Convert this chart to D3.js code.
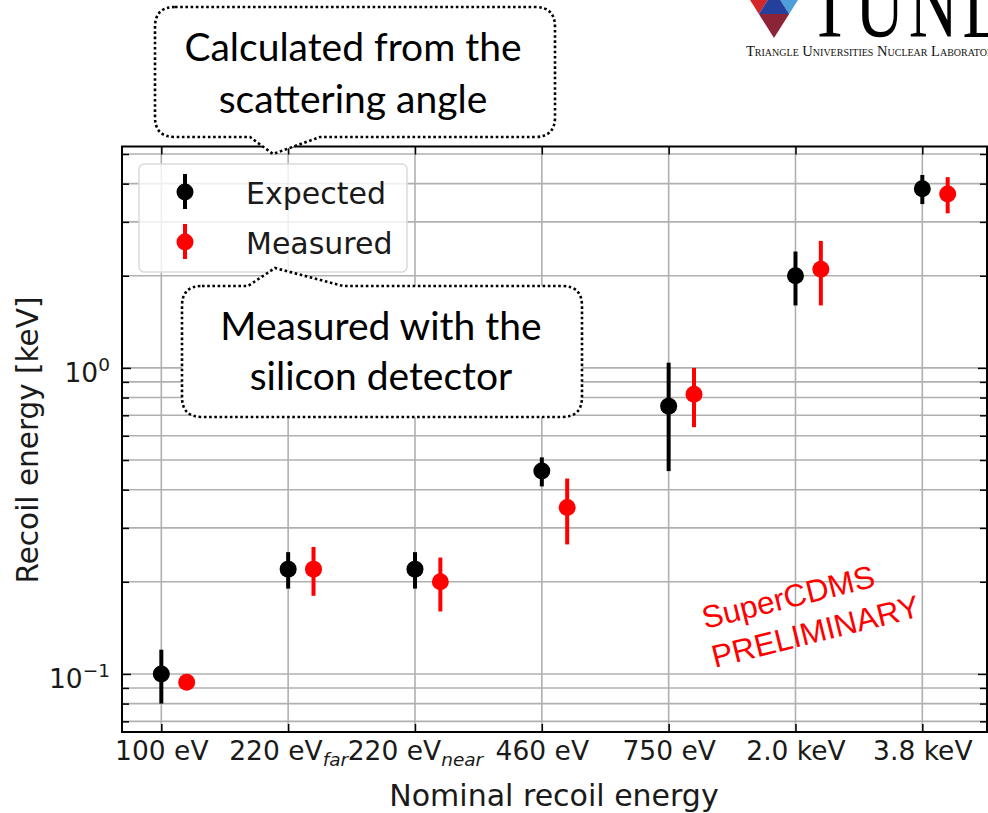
<!DOCTYPE html>
<html>
<head>
<meta charset="utf-8">
<script src="https://cdn.jsdelivr.net/npm/d3@7"></script>
<style>
  body { margin: 0; background: #fff; }
  svg { display: block; }
</style>
</head>
<body>
<svg></svg>
<script>
var W = 988, H = 813;
var margin = {top: 146.5, right: 1, bottom: 81, left: 122};
var width = W - margin.left - margin.right;
var height = H - margin.top - margin.bottom;

// data
var categories = ["100 eV", "220 eV", "220 eV", "460 eV", "750 eV", "2.0 keV", "3.8 keV"];
var subscripts = ["", "far", "near", "", "", "", ""];
var expected    = [0.100, 0.22, 0.22, 0.46, 0.75, 2.0, 3.85];
var expectedErr = [0.020, 0.03, 0.03, 0.05, 0.29, 0.4, 0.42];
var measured    = [0.094, 0.22, 0.20, 0.35, 0.82, 2.1, 3.70];
var measuredErr = [0.004, 0.04, 0.04, 0.085, 0.18, 0.5, 0.5];
var measuredOffset = 0.2;

var yMajor = [0.1, 1];
var yMinor = [0.07, 0.08, 0.09, 0.2, 0.3, 0.4, 0.5, 0.6, 0.7, 0.8, 0.9, 2, 3, 4, 5];

var series = [
  {name: "Expected", color: "#000", values: expected, errors: expectedErr, offset: 0},
  {name: "Measured", color: "#ff0000", values: measured, errors: measuredErr, offset: measuredOffset}
];

var svg = d3.select("svg")
    .attr("width", W)
    .attr("height", H);

svg.append("rect").attr("width", W).attr("height", H).attr("fill", "#fff");

var g = svg.append("g")
    .attr("transform", "translate(" + margin.left + "," + margin.top + ")");

var x = d3.scaleLinear().domain([-0.31, 6.51]).range([0, width]);
var y = d3.scaleLog().domain([0.0646, 5.29]).range([height, 0]);

// grid (major + minor on y, categories on x)
var grid = g.append("g").attr("stroke", "#b0b0b0").attr("stroke-width", 1.6);
grid.selectAll(".gy")
    .data(yMajor.concat(yMinor))
  .enter().append("line")
    .attr("x1", 0).attr("x2", width)
    .attr("y1", function(d) { return y(d); })
    .attr("y2", function(d) { return y(d); });
grid.selectAll(".gx")
    .data(d3.range(categories.length))
  .enter().append("line")
    .attr("y1", 0).attr("y2", height)
    .attr("x1", function(d) { return x(d); })
    .attr("x2", function(d) { return x(d); });

// axes, ticks pointing inward on all four sides
function styleAxis(sel) {
  sel.select(".domain").remove();
  sel.selectAll(".tick line").attr("stroke", "#000").attr("stroke-width", 1.5);
}

var xBottom = g.append("g")
    .attr("transform", "translate(0," + height + ")")
    .call(d3.axisBottom(x).tickValues(d3.range(categories.length)).tickSizeInner(-8).tickSizeOuter(0).tickPadding(9))
    .call(styleAxis);
xBottom.selectAll(".tick text")
    .attr("font-family", "DejaVu Sans")
    .attr("font-size", 26.5)
    .attr("fill", "#1a1a1a")
    .each(function(d) {
      var t = d3.select(this).text(null);
      t.append("tspan").text(categories[d]);
      if (subscripts[d]) {
        t.append("tspan").attr("font-size", 18.5).attr("font-style", "italic").attr("dy", 6).text(subscripts[d]);
      }
    });

g.append("g")
    .call(d3.axisTop(x).tickValues(d3.range(categories.length)).tickSizeInner(-8).tickSizeOuter(0).tickFormat(""))
    .call(styleAxis);

var yLeft = g.append("g")
    .call(d3.axisLeft(y).tickValues(yMajor).tickSizeInner(-9).tickSizeOuter(0).tickPadding(12))
    .call(styleAxis);
yLeft.selectAll(".tick text")
    .attr("font-family", "DejaVu Sans")
    .attr("font-size", 26.5)
    .attr("fill", "#1a1a1a")
    .attr("dy", "0.52em")
    .each(function(d) {
      var t = d3.select(this).text(null);
      var p = Math.round(Math.log10(d));
      t.append("tspan").text("10");
      t.append("tspan").attr("font-size", 18.5).attr("dy", -11).text(p < 0 ? "\u2212" + (-p) : p);
    });
g.append("g")
    .call(d3.axisLeft(y).tickValues(yMinor).tickSizeInner(-7).tickSizeOuter(0).tickFormat(""))
    .call(styleAxis);
g.append("g")
    .attr("transform", "translate(" + width + ",0)")
    .call(d3.axisRight(y).tickValues(yMajor).tickSizeInner(-9).tickSizeOuter(0).tickFormat(""))
    .call(styleAxis);
g.append("g")
    .attr("transform", "translate(" + width + ",0)")
    .call(d3.axisRight(y).tickValues(yMinor).tickSizeInner(-7).tickSizeOuter(0).tickFormat(""))
    .call(styleAxis);

// frame
g.append("rect")
    .attr("width", width).attr("height", height)
    .attr("fill", "none").attr("stroke", "#000").attr("stroke-width", 2);

// axis labels
svg.append("text")
    .attr("x", 554).attr("y", 806)
    .attr("text-anchor", "middle")
    .attr("font-family", "DejaVu Sans")
    .attr("font-size", 30)
    .attr("fill", "#1a1a1a")
    .text("Nominal recoil energy");

svg.append("text")
    .attr("transform", "translate(38,440) rotate(-90)")
    .attr("text-anchor", "middle")
    .attr("font-family", "DejaVu Sans")
    .attr("font-size", 29.5)
    .attr("fill", "#1a1a1a")
    .text("Recoil energy [keV]");

// error bars + markers
var sg = g.selectAll(".series")
    .data(series)
  .enter().append("g")
    .attr("class", "series");

sg.selectAll("line")
    .data(function(s) { return s.values.map(function(v, i) { return {i: i, v: v, e: s.errors[i], s: s}; }); })
  .enter().append("line")
    .attr("stroke", function(d) { return d.s.color; })
    .attr("stroke-width", 4)
    .attr("x1", function(d) { return x(d.i + d.s.offset); })
    .attr("x2", function(d) { return x(d.i + d.s.offset); })
    .attr("y1", function(d) { return y(d.v - d.e); })
    .attr("y2", function(d) { return y(d.v + d.e); });

sg.selectAll("circle")
    .data(function(s) { return s.values.map(function(v, i) { return {i: i, v: v, s: s}; }); })
  .enter().append("circle")
    .attr("fill", function(d) { return d.s.color; })
    .attr("r", 8.5)
    .attr("cx", function(d) { return x(d.i + d.s.offset); })
    .attr("cy", function(d) { return y(d.v); });

// legend
var legend = svg.append("g").attr("transform", "translate(139,164)");
legend.append("rect")
    .attr("width", 268).attr("height", 108).attr("rx", 5)
    .attr("fill", "#fff").attr("fill-opacity", 0.8)
    .attr("stroke", "#dadada").attr("stroke-width", 1.5);
var li = legend.selectAll(".li")
    .data(series)
  .enter().append("g")
    .attr("transform", function(d, i) { return "translate(46," + (28 + i * 50) + ")"; });
li.append("line")
    .attr("y1", -18).attr("y2", 17)
    .attr("stroke", function(d) { return d.color; })
    .attr("stroke-width", 4);
li.append("circle").attr("r", 8.5).attr("fill", function(d) { return d.color; });
li.append("text")
    .attr("x", 61).attr("y", 12)
    .attr("font-family", "DejaVu Sans")
    .attr("font-size", 30)
    .attr("fill", "#1a1a1a")
    .text(function(d) { return d.name; });

// callouts
function callout(x0, y0, x1, y1, r, ptr, side) {
  var p = d3.path();
  p.moveTo(x0 + r, y0);
  if (side === "top") { p.lineTo(ptr[0], y0); p.lineTo(ptr[1], ptr[2]); p.lineTo(ptr[3], y0); }
  p.lineTo(x1 - r, y0);
  p.quadraticCurveTo(x1, y0, x1, y0 + r);
  p.lineTo(x1, y1 - r);
  p.quadraticCurveTo(x1, y1, x1 - r, y1);
  if (side === "bottom") { p.lineTo(ptr[3], y1); p.lineTo(ptr[1], ptr[2]); p.lineTo(ptr[0], y1); }
  p.lineTo(x0 + r, y1);
  p.quadraticCurveTo(x0, y1, x0, y1 - r);
  p.lineTo(x0, y0 + r);
  p.quadraticCurveTo(x0, y0, x0 + r, y0);
  p.closePath();
  return p.toString();
}

var notes = [
  {box: [155, 7, 555, 137], ptr: [250, 273, 154, 320], side: "bottom", cx: 353, lines: ["Calculated from the", "scattering angle"], y: [61, 113]},
  {box: [182, 286, 582, 417], ptr: [248, 275, 268, 343], side: "top", cx: 381, lines: ["Measured with the", "silicon detector"], y: [340, 390]}
];
notes.forEach(function(n) {
  var c = svg.append("g");
  c.append("path")
      .attr("d", callout(n.box[0], n.box[1], n.box[2], n.box[3], 20, n.ptr, n.side))
      .attr("fill", "#fff")
      .attr("stroke", "#000")
      .attr("stroke-width", 2.6)
      .attr("stroke-dasharray", "2.6,2.6");
  c.selectAll("text")
      .data(n.lines)
    .enter().append("text")
      .attr("x", n.cx)
      .attr("y", function(d, i) { return n.y[i]; })
      .attr("text-anchor", "middle")
      .attr("font-family", "Lato")
      .attr("font-size", 39)
      .attr("fill", "#000")
      .text(function(d) { return d; });
});

// watermark
var wm = svg.append("g").attr("transform", "translate(705,629) rotate(-14)");
wm.selectAll("text")
    .data(["SuperCDMS", "PRELIMINARY"])
  .enter().append("text")
    .attr("x", 0)
    .attr("y", function(d, i) { return i * 40; })
    .attr("font-family", "Liberation Sans")
    .attr("font-size", 31.5)
    .attr("fill", "#ff0000")
    .text(function(d) { return d; });

// TUNL logo (top right, cut off by the slide edge)
var tri = [[743.7, -10], [804.3, -10], [774, 38]];
var m1 = [774, -10], m2 = [758.85, 14], m3 = [789.15, 14];
var pieces = [
  {pts: [tri[0], m1, m2], color: "#d4262b"},
  {pts: [m1, tri[1], m3], color: "#4d9ed9"},
  {pts: [m1, m3, m2], color: "#25409c"},
  {pts: [m2, m3, tri[2]], color: "#8b2436"}
];
svg.selectAll(".logo")
    .data(pieces)
  .enter().append("path")
    .attr("d", function(d) { return d3.line()(d.pts) + "Z"; })
    .attr("fill", function(d) { return d.color; });
svg.append("text")
    .attr("transform", "translate(809,37) scale(0.72,1)")
    .attr("font-family", "Liberation Serif")
    .attr("font-size", 95)
    .attr("letter-spacing", 6)
    .attr("fill", "#000")
    .text("TUNL");
svg.append("text")
    .attr("x", 746).attr("y", 56)
    .attr("font-family", "Liberation Serif")
    .attr("font-size", 14.5)
    .attr("font-variant", "small-caps")
    .attr("fill", "#111")
    .text("Triangle Universities Nuclear Laboratory");
</script>
</body>
</html>
